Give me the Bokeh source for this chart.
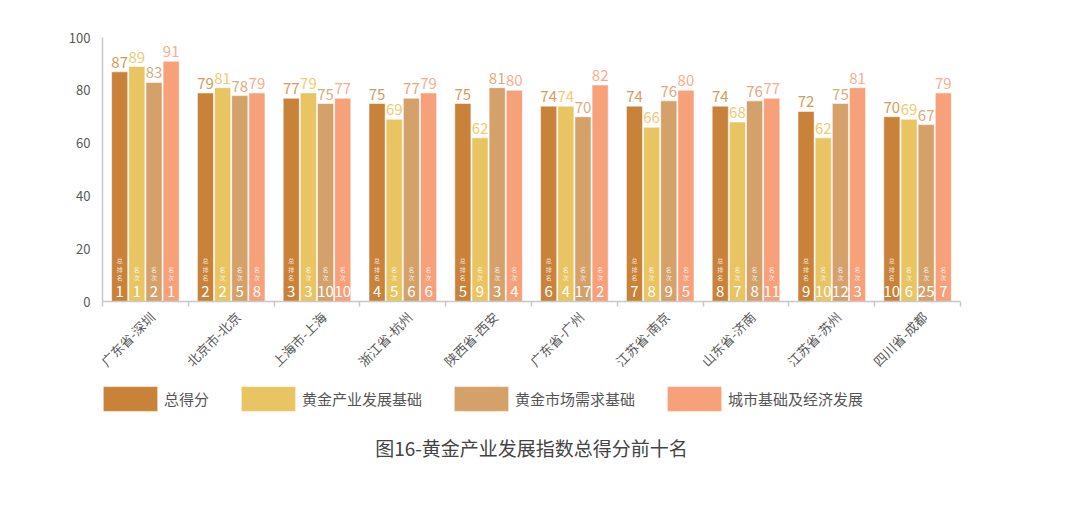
import math
import numpy as np
from bokeh.plotting import figure
from bokeh.layouts import column
from bokeh.models import Range1d, FixedTicker, Legend, LegendItem, Title
from bokeh.core.properties import value
from bokeh.embed import file_html
from bokeh.resources import INLINE

# ---------------- data ----------------
cities = ["广东省-深圳", "北京市-北京", "上海市-上海", "浙江省-杭州", "陕西省-西安",
          "广东省-广州", "江苏省-南京", "山东省-济南", "江苏省-苏州", "四川省-成都"]
total_score = [87, 79, 77, 75, 75, 74, 74, 74, 72, 70]
industry_base = [89, 81, 79, 69, 62, 74, 66, 68, 62, 69]
market_base = [83, 78, 75, 77, 81, 70, 76, 76, 75, 67]
city_economy = [91, 79, 77, 79, 80, 82, 80, 77, 81, 79]

total_rank = [1, 2, 3, 4, 5, 6, 7, 8, 9, 10]
industry_rank = [1, 2, 3, 5, 9, 4, 8, 7, 10, 6]
market_rank = [2, 5, 10, 6, 3, 17, 9, 8, 12, 25]
city_rank = [1, 8, 10, 6, 4, 2, 5, 11, 3, 7]

series_names = ["总得分", "黄金产业发展基础", "黄金市场需求基础", "城市基础及经济发展"]
rank_captions = ["总\n排\n名", "名\n次", "名\n次", "名\n次"]
y_ticks = [0, 20, 40, 60, 80, 100]
chart_title = "图16-黄金产业发展指数总得分前十名"

series_values = [total_score, industry_base, market_base, city_economy]
series_ranks = [total_rank, industry_rank, market_rank, city_rank]

# ---------------- style ----------------
FONT = "Noto Sans CJK SC"
bar_colors = ["#C8823A", "#E9C463", "#D5A16B", "#F7A17B"]
label_colors = ["#D49B60", "#F0CB72", "#DCAB80", "#F9AD8C"]
offsets = [-0.3, -0.1, 0.1, 0.3]
bar_w = 0.188
label_shift = 0.08
axis_gray = "#C8C8C8"

n = len(cities)
centers = np.arange(n) + 0.5
label_pos = centers + label_shift

# ---------------- main chart ----------------
p = figure(width=1064, height=380,
           x_range=Range1d(0, n), y_range=Range1d(0, 100),
           output_backend="svg", toolbar_location=None,
           min_border_left=102, min_border_right=104,
           min_border_top=37, min_border_bottom=78)
p.grid.visible = False
p.outline_line_color = None

bars = []
for k in range(4):
    xs = centers + offsets[k]
    r = p.vbar(x=xs, top=series_values[k], width=bar_w, bottom=0,
               fill_color=bar_colors[k], line_color="white", line_alpha=0.55, line_width=1)
    bars.append(r)
    p.text(x=xs, y=series_values[k], text=[str(v) for v in series_values[k]],
           y_offset=-4, text_align="center", text_baseline="bottom",
           text_font=value(FONT), text_font_size="15px", text_color=label_colors[k])
    p.text(x=xs, y=[0] * n, text=[rank_captions[k]] * n,
           y_offset=-19, text_align="center", text_baseline="bottom",
           text_font=value(FONT), text_font_size="6px", text_line_height=0.95,
           text_color="white", text_alpha=0.8)
    p.text(x=xs, y=[0] * n, text=[str(v) for v in series_ranks[k]],
           y_offset=-10, text_align="center", text_baseline="middle",
           text_font=value(FONT), text_font_size="15px", text_color="white")

# y axis
yax = p.yaxis[0]
yax.ticker = FixedTicker(ticks=y_ticks)
yax.major_tick_line_color = None
yax.minor_tick_line_color = None
yax.major_tick_out = 0
yax.major_tick_in = 0
yax.axis_line_color = axis_gray
yax.axis_line_width = 1.5
yax.major_label_standoff = 12
yax.major_label_text_font = FONT
yax.major_label_text_font_size = "13px"
yax.major_label_text_color = "#595959"

# x axis
xax = p.xaxis[0]
xax.ticker = FixedTicker(ticks=list(label_pos), minor_ticks=list(range(n + 1)))
xax.major_label_overrides = {float(c): name for c, name in zip(label_pos, cities)}
xax.major_tick_line_color = None
xax.major_tick_out = 0
xax.major_tick_in = 0
xax.minor_tick_line_color = axis_gray
xax.minor_tick_line_width = 1.5
xax.minor_tick_out = 5
xax.minor_tick_in = 0
xax.axis_line_color = axis_gray
xax.axis_line_width = 1.5
xax.major_label_orientation = math.pi / 4
xax.major_label_standoff = 8
xax.major_label_text_font = FONT
xax.major_label_text_font_size = "13px"
xax.major_label_text_color = "#595959"

# ---------------- legend + caption strip ----------------
p2 = figure(width=1064, height=82, x_range=Range1d(0, n), y_range=Range1d(0, 100),
            output_backend="svg", toolbar_location=None,
            x_axis_location=None, y_axis_location=None,
            min_border_left=0, min_border_right=0, min_border_top=0, min_border_bottom=0)
p2.grid.visible = False
p2.outline_line_color = None

proxies = []
for k in range(4):
    r2 = p2.vbar(x=centers + offsets[k], top=series_values[k], width=bar_w,
                 fill_color=bar_colors[k], line_color="white", line_alpha=0.55, line_width=1,
                 visible=False)
    proxies.append(r2)

legend = Legend(items=[LegendItem(label=series_names[k], renderers=[proxies[k]]) for k in range(4)],
                orientation="horizontal", location=(-6, 15),
                glyph_width=68, glyph_height=31, label_standoff=0, spacing=25,
                padding=0, margin=0, border_line_color=None, background_fill_alpha=0,
                label_text_font=FONT, label_text_font_size="15px", label_text_color="#555555")
p2.add_layout(legend, "center")

p2.add_layout(Title(text=chart_title, align="center", text_font=FONT, text_font_size="19px",
                    text_font_style="normal", text_color="#444444", standoff=4), "below")

layout = column(p, p2, spacing=0)
open("out.html", "w").write(file_html(layout, INLINE))
